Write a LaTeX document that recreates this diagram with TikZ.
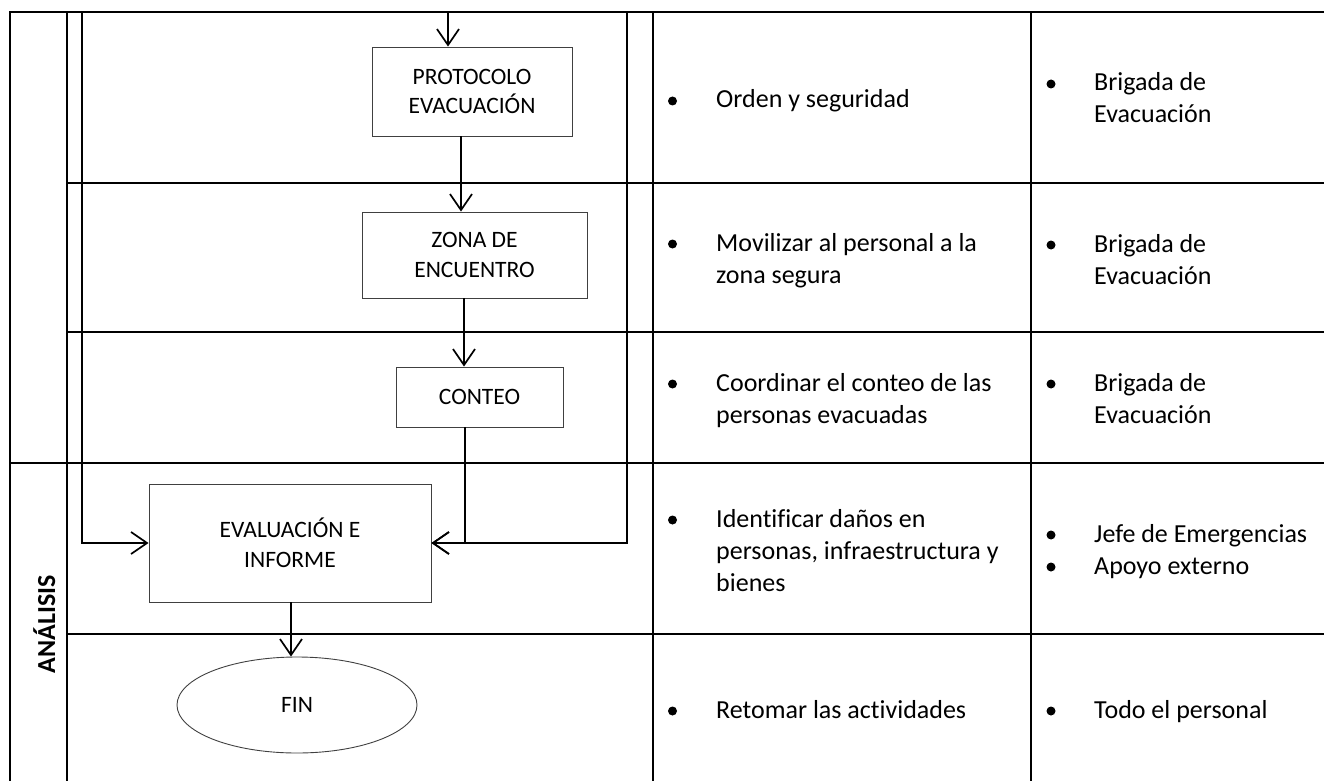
\documentclass[tikz,border=0pt]{standalone}
\usepackage{fontspec}
\setmainfont{Carlito}[Ligatures=CommonOff]
\usetikzlibrary{arrows.meta,shapes.geometric}
\begin{document}
\begin{tikzpicture}[x=1pt,y=-1pt,
  grid/.style={line width=1.7pt, black},
  fbox/.style={draw=black!75, line width=0.9pt, rectangle, inner sep=0pt, align=center,
               font=\fontsize{23.5}{29.5}\selectfont},
  conn/.style={line width=1.7pt, black},
  arr/.style={conn, -{Straight Barb[length=16pt,width=22pt]}},
  cell/.style={font=\fontsize{26}{32}\selectfont, inner sep=0pt, anchor=base west},
  bul/.style={circle, fill=black, inner sep=0pt, minimum size=9pt},
]
\useasboundingbox (0,0) rectangle (1324,781);

% table grid
\draw[grid] (1324,12) -- (10,12) -- (10,781);
\draw[grid] (67,12) -- (67,781);
\draw[grid] (653,12) -- (653,781);
\draw[grid] (1031,12) -- (1031,781);
\draw[grid] (67,183) -- (1324,183);
\draw[grid] (67,332) -- (1324,332);
\draw[grid] (10,463) -- (1324,463);
\draw[grid] (67,634) -- (1324,634);

% left label
\node[font=\fontsize{26}{30}\selectfont\bfseries, rotate=90, anchor=base, inner sep=0pt] (an) at (55,624) {ANÁLISIS};

% flow boxes
\node[fbox, minimum width=200pt, minimum height=89pt] (prot) at (472,91.5) {PROTOCOLO\\EVACUACIÓN};
\node[fbox, minimum width=225pt, minimum height=86pt] (zona) at (474.5,255) {ZONA DE\\ENCUENTRO};
\node[fbox, minimum width=167pt, minimum height=60pt] (conteo) at (479.5,397) {CONTEO};
\node[fbox, minimum width=282pt, minimum height=118pt] (eval) at (290,543) {EVALUACIÓN E\\INFORME};
\node[fbox, ellipse, minimum width=240pt, minimum height=96pt] (fin) at (297,705) {FIN};

% connectors
\coordinate (tA) at (448,12);
\coordinate (tL) at (82,12);
\coordinate (tR) at (627,12);
\draw[arr] (tA) -- (tA |- prot.north);
\draw[arr] ([xshift=-11pt]prot.south) -- ([xshift=-11pt]prot.south |- zona.north);
\draw[arr] ([xshift=-10.5pt]zona.south) -- ([xshift=-10.5pt]zona.south |- conteo.north);
\draw[arr] (tL) |- (eval.west);
\draw[arr] (tR) |- (eval.east);
\draw[arr] ([xshift=-14.5pt]conteo.south) |- (eval.east);
\draw[arr] ([xshift=1pt]eval.south) -- ([xshift=1pt]eval.south |- fin.north);

% row 1
\node[bul] (b1m) at (672.5,101) {};
\node[cell] (t1m) at (716,108) {Orden y seguridad};
\node[bul] (b1r) at (1051,84) {};
\node[cell] (t1ra) at (1094,91) {Brigada de};
\node[cell] (t1rb) at (1094,123) {Evacuación};

% row 2
\node[bul] (b2m) at (672.5,244) {};
\node[cell] (t2ma) at (716,251) {Movilizar al personal a la};
\node[cell] (t2mb) at (716,283) {zona segura};
\node[bul] (b2r) at (1051,245) {};
\node[cell] (t2ra) at (1094,252) {Brigada de};
\node[cell] (t2rb) at (1094,284) {Evacuación};

% row 3
\node[bul] (b3m) at (672.5,384) {};
\node[cell] (t3ma) at (716,391) {Coordinar el conteo de las};
\node[cell] (t3mb) at (716,423) {personas evacuadas};
\node[bul] (b3r) at (1051,384) {};
\node[cell] (t3ra) at (1094,391) {Brigada de};
\node[cell] (t3rb) at (1094,423) {Evacuación};

% row 4
\node[bul] (b4m) at (672.5,520) {};
\node[cell] (t4ma) at (716,527) {Identificar daños en};
\node[cell] (t4mb) at (716,559) {personas, infraestructura y};
\node[cell] (t4mc) at (716,591) {bienes};
\node[bul] (b4ra) at (1051,535) {};
\node[cell] (t4ra) at (1094,542) {Jefe de Emergencias};
\node[bul] (b4rb) at (1051,567) {};
\node[cell] (t4rb) at (1094,574) {Apoyo externo};

% row 5
\node[bul] (b5m) at (672.5,711) {};
\node[cell] (t5m) at (716,718) {Retomar las actividades};
\node[bul] (b5r) at (1051,711) {};
\node[cell] (t5r) at (1094,718) {Todo el personal};
\end{tikzpicture}
\end{document}
